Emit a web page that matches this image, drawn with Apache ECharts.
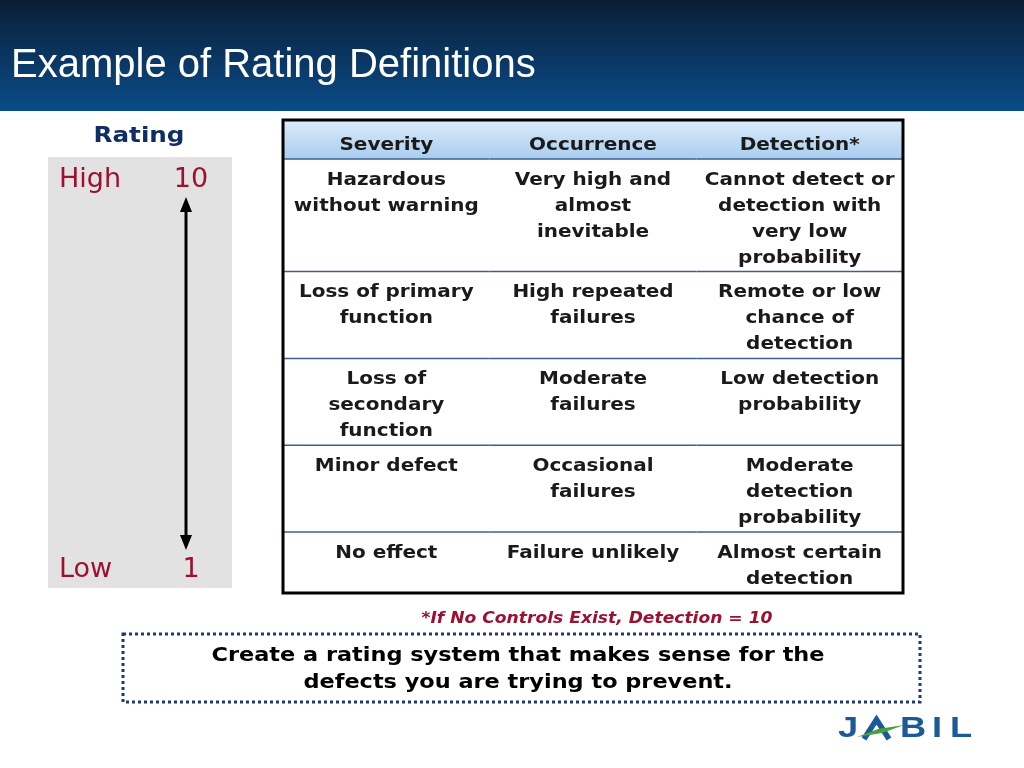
<!DOCTYPE html>
<html>
<head>
<meta charset="utf-8">
<script src="https://cdn.jsdelivr.net/npm/echarts@6/dist/echarts.min.js"></script>
<style>
html, body { margin: 0; padding: 0; background: #fff; }
#main { width: 1024px; height: 768px; }
</style>
</head>
<body>
<div id="main"></div>
<script>
const title = 'Example of Rating Definitions'
const columns = ['Severity', 'Occurrence', 'Detection*']
const severity = ['Hazardous\nwithout warning', 'Loss of primary\nfunction', 'Loss of\nsecondary\nfunction', 'Minor defect', 'No effect']
const occurrence = ['Very high and\nalmost\ninevitable', 'High repeated\nfailures', 'Moderate\nfailures', 'Occasional\nfailures', 'Failure unlikely']
const detection = ['Cannot detect or\ndetection with\nvery low\nprobability', 'Remote or low\nchance of\ndetection', 'Low detection\nprobability', 'Moderate\ndetection\nprobability', 'Almost certain\ndetection']
const ratingLabels = ['High', 'Low']
const ratingValues = [10, 1]
const footnote = '*If No Controls Exist, Detection = 10'
const advice = 'Create a rating system that makes sense for the\ndefects you are trying to prevent.'

const CRIMSON = '#9e1030'
const NAVY = '#0f2d66'
const LOGO = '#1b5a96'
const VERDANA = '"DejaVu Sans", Verdana, sans-serif'
const BODY_FONT = 'bold 18.5px ' + VERDANA
const LOGO_FONT = 'bold 29px "Liberation Sans", Arial, sans-serif'

// build table cells; each row is as tall as its longest cell (in text lines)
const bodyCols = [severity, occurrence, detection]
const cells = []
let y = 0
columns.forEach((t, c) => cells.push({ col: c, y0: 0, y1: 1.5, text: t, header: true }))
y = 1.5
for (let r = 0; r < severity.length; r++) {
  const lines = Math.max(...bodyCols.map(col => col[r].split('\n').length))
  const h = lines + 0.35
  bodyCols.forEach((col, c) => cells.push({ col: c, y0: y, y1: y + h, text: col[r], header: false, last: r === severity.length - 1 }))
  y += h
}
const totalRows = y

function logoLetter(ch, x) {
  return { type: 'text', z: 1, x: x, y: 729, scaleX: 1.25, style: { text: ch, x: 0, y: 0, align: 'center', verticalAlign: 'middle', fill: LOGO, font: LOGO_FONT } }
}

let chart = echarts.init(document.getElementById('main'))

let option = {
  backgroundColor: '#fff',
  animation: false,
  grid: [
    { left: 283, right: 121, top: 120, bottom: 175, show: true, borderColor: '#000', borderWidth: 3, backgroundColor: 'transparent', z: 5 },
    { left: 48, width: 184, top: 180, height: 390 }
  ],
  xAxis: [
    { type: 'value', gridIndex: 0, min: 0, max: 3, show: false },
    { type: 'value', gridIndex: 1, min: 0, max: 1, show: false }
  ],
  yAxis: [
    { type: 'value', gridIndex: 0, min: 0, max: totalRows, inverse: true, show: false },
    { type: 'value', gridIndex: 1, min: 1, max: 10, show: false }
  ],
  graphic: [
    {
      type: 'rect', shape: { x: 0, y: 0, width: 1024, height: 111 }, z: 0,
      style: {
        fill: new echarts.graphic.LinearGradient(0, 0, 0, 1, [
          { offset: 0, color: '#0b1e34' },
          { offset: 0.5, color: '#0a3561' },
          { offset: 1, color: '#0a4c88' }
        ])
      }
    },
    {
      type: 'text', z: 1,
      style: { text: title, x: 11, y: 66, verticalAlign: 'middle', fill: '#fff', font: '40px "Liberation Sans", Arial, sans-serif' }
    },
    {
      type: 'text', z: 1, x: 139, y: 136, scaleX: 1.12,
      style: { text: 'Rating', x: 0, y: 0, align: 'center', verticalAlign: 'middle', fill: NAVY, font: 'bold 22px ' + VERDANA }
    },
    { type: 'rect', z: 0, shape: { x: 48, y: 157, width: 184, height: 431 }, style: { fill: '#e2e2e2' } },
    {
      type: 'text', z: 1, x: 597, y: 619, scaleX: 1.07,
      style: { text: footnote, x: 0, y: 0, align: 'center', verticalAlign: 'middle', fill: CRIMSON, font: 'italic bold 16px ' + VERDANA }
    },
    {
      type: 'rect', z: 1, shape: { x: 123, y: 634, width: 797, height: 68 },
      style: { fill: 'none', stroke: '#1f3a70', lineWidth: 3, lineDash: [3, 3] }
    },
    {
      type: 'text', z: 1, x: 518, y: 669, scaleX: 1.12,
      style: { text: advice, x: 0, y: 0, align: 'center', verticalAlign: 'middle', lineHeight: 27, fill: '#000', font: 'bold 20px ' + VERDANA }
    },
    // JABIL logo
    logoLetter('J', 848),
    { type: 'polyline', z: 1, shape: { points: [[864, 739], [876.5, 719.5], [889, 739]] }, style: { stroke: LOGO, lineWidth: 5.5, fill: 'none', lineJoin: 'miter' } },
    logoLetter('B', 913),
    logoLetter('I', 937),
    logoLetter('L', 961),
    { type: 'polygon', z: 2, shape: { points: [[857, 737], [878, 729], [904, 725], [882, 733]] }, style: { fill: '#45a040' } }
  ],
  series: [
    {
      type: 'custom',
      xAxisIndex: 0,
      yAxisIndex: 0,
      z: 3,
      data: cells.map(d => [d.col, d.y0, d.y1]),
      renderItem(params, api) {
        const cell = cells[params.dataIndex]
        const p0 = api.coord([api.value(0), api.value(1)])
        const p1 = api.coord([api.value(0) + 1, api.value(2)])
        const w = p1[0] - p0[0]
        const h = p1[1] - p0[1]
        const children = []
        if (cell.header) {
          children.push({
            type: 'rect', shape: { x: p0[0] - 0.5, y: p0[1], width: w + 1, height: h },
            style: {
              fill: new echarts.graphic.LinearGradient(0, 0, 0, 1, [
                { offset: 0, color: '#dcebfa' },
                { offset: 1, color: '#a9cdef' }
              ])
            }
          })
          children.push({
            type: 'text', x: p0[0] + w / 2, y: p0[1] + h / 2 + 6, scaleX: 1.08,
            style: { text: cell.text, x: 0, y: 0, align: 'center', verticalAlign: 'middle', fill: '#1a1a1a', font: BODY_FONT }
          })
        } else {
          children.push({
            type: 'text', x: p0[0] + w / 2, y: p0[1] + 8, scaleX: 1.08,
            style: { text: cell.text, x: 0, y: 0, align: 'center', verticalAlign: 'top', lineHeight: 26, fill: '#1a1a1a', font: BODY_FONT }
          })
        }
        if (!cell.last) {
          children.push({
            type: 'line', shape: { x1: p0[0], y1: p1[1], x2: p1[0], y2: p1[1] },
            style: { stroke: '#3d5f8f', lineWidth: 1.5 }
          })
        }
        return { type: 'group', children }
      }
    },
    {
      type: 'custom',
      xAxisIndex: 1,
      yAxisIndex: 1,
      z: 3,
      data: ratingValues.map(v => [0, v]),
      renderItem(params, api) {
        const p = api.coord([0, api.value(1)])
        const i = params.dataIndex
        return {
          type: 'group',
          children: [
            { type: 'text', style: { text: ratingLabels[i], x: p[0] + 11, y: p[1], align: 'left', verticalAlign: 'middle', fill: CRIMSON, font: '27px ' + VERDANA } },
            { type: 'text', style: { text: String(ratingValues[i]), x: p[0] + 143, y: p[1], align: 'center', verticalAlign: 'middle', fill: CRIMSON, font: '27px ' + VERDANA } }
          ]
        }
      }
    },
    {
      type: 'custom',
      xAxisIndex: 1,
      yAxisIndex: 1,
      z: 3,
      data: [[0, ratingValues[0], ratingValues[1]]],
      renderItem(params, api) {
        const top = api.coord([0, api.value(1)])
        const bot = api.coord([0, api.value(2)])
        const x = top[0] + 138
        const y0 = top[1] + 17
        const y1 = bot[1] - 20
        return {
          type: 'group',
          children: [
            { type: 'line', shape: { x1: x, y1: y0 + 10, x2: x, y2: y1 - 10 }, style: { stroke: '#000', lineWidth: 3 } },
            { type: 'polygon', shape: { points: [[x, y0], [x - 6, y0 + 15], [x + 6, y0 + 15]] }, style: { fill: '#000' } },
            { type: 'polygon', shape: { points: [[x, y1], [x - 6, y1 - 15], [x + 6, y1 - 15]] }, style: { fill: '#000' } }
          ]
        }
      }
    }
  ]
}
chart.setOption(option)
</script>
</body>
</html>
